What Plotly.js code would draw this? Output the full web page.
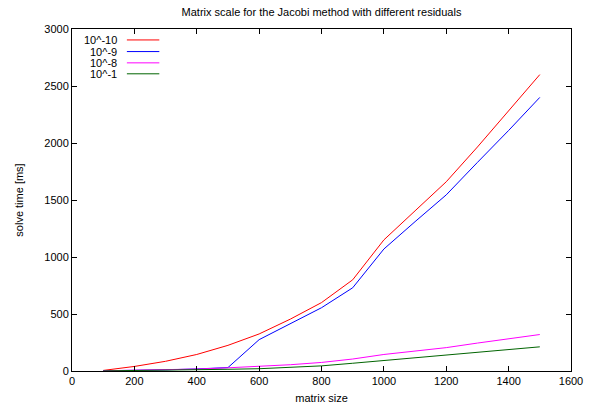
<!DOCTYPE html>
<html>
<head>
<meta charset="utf-8">
<script src="https://cdn.plot.ly/plotly-3.0.1.min.js"></script>
<style>html,body{margin:0;padding:0;background:#fff;}#chart{width:590px;height:406px;}</style>
</head>
<body>
<div id="chart"></div>
<script>
const matrixSize = [100, 200, 300, 400, 500, 600, 700, 800, 900, 1000, 1100, 1200, 1300, 1400, 1500];
const seriesNames = ["10^-10", "10^-9", "10^-8", "10^-1"];
const res1e10 = [5, 40, 85, 145, 225, 325, 455, 600, 800, 1150, 1405, 1660, 1965, 2280, 2600];
const res1e9  = [2, 5, 10, 18, 30, 275, 415, 555, 730, 1070, 1310, 1545, 1830, 2110, 2400];
const res1e8  = [2, 5, 10, 17, 28, 40, 55, 75, 105, 145, 175, 205, 245, 282, 320];
const res1e1  = [1, 3, 6, 10, 15, 20, 30, 45, 68, 93, 118, 142, 165, 188, 212];
const xTicks = [0, 200, 400, 600, 800, 1000, 1200, 1400, 1600];
const yTicks = [0, 500, 1000, 1500, 2000, 2500, 3000];

const colors = ["#ff0000", "#0000ff", "#ff00ff", "#006400"];
const values = [res1e10, res1e9, res1e8, res1e1];

const traces = values.map((v, i) => ({
  x: matrixSize, y: v, type: "scatter", mode: "lines", name: seriesNames[i],
  line: {color: colors[i], width: 1}, showlegend: false
}));

const font = {family: "Liberation Sans, Arial, sans-serif", size: 11, color: "#000"};
const annotations = [];
const shapes = [];
const rowY = [0.968, 0.934, 0.901, 0.869];
seriesNames.forEach((n, i) => {
  annotations.push({xref: "paper", yref: "paper", x: 0.094, y: rowY[i], text: n,
    showarrow: false, xanchor: "right", yanchor: "middle", font: font});
  shapes.push({type: "line", xref: "paper", yref: "paper", x0: 0.110, x1: 0.175,
    y0: rowY[i], y1: rowY[i], line: {color: colors[i], width: 1}});
});

const axisCommon = {
  showline: true, linecolor: "#000", linewidth: 1, mirror: "ticks",
  ticks: "inside", ticklen: 5, tickwidth: 1, tickcolor: "#000",
  showgrid: false, zeroline: false, tickfont: font
};

const layout = {
  width: 590, height: 406,
  margin: {l: 72, r: 19, t: 29, b: 35},
  paper_bgcolor: "#fff", plot_bgcolor: "#fff",
  font: font,
  title: {text: "Matrix scale for the Jacobi method with different residuals",
    font: {family: font.family, size: 11, color: "#000"}, x: 0.5, xref: "paper", y: 0.97, yanchor: "middle"},
  xaxis: Object.assign({}, axisCommon, {range: [0, 1600], tickvals: xTicks, ticktext: xTicks.map(String),
    title: {text: "matrix size", font: font, standoff: 8}}),
  yaxis: Object.assign({}, axisCommon, {range: [0, 3000], tickvals: yTicks, ticktext: yTicks.map(String),
    title: {text: "solve time [ms]", font: font, standoff: 18}}),
  annotations: annotations,
  shapes: shapes
};

Plotly.newPlot("chart", traces, layout, {displayModeBar: false, staticPlot: true});
</script>
</body>
</html>
